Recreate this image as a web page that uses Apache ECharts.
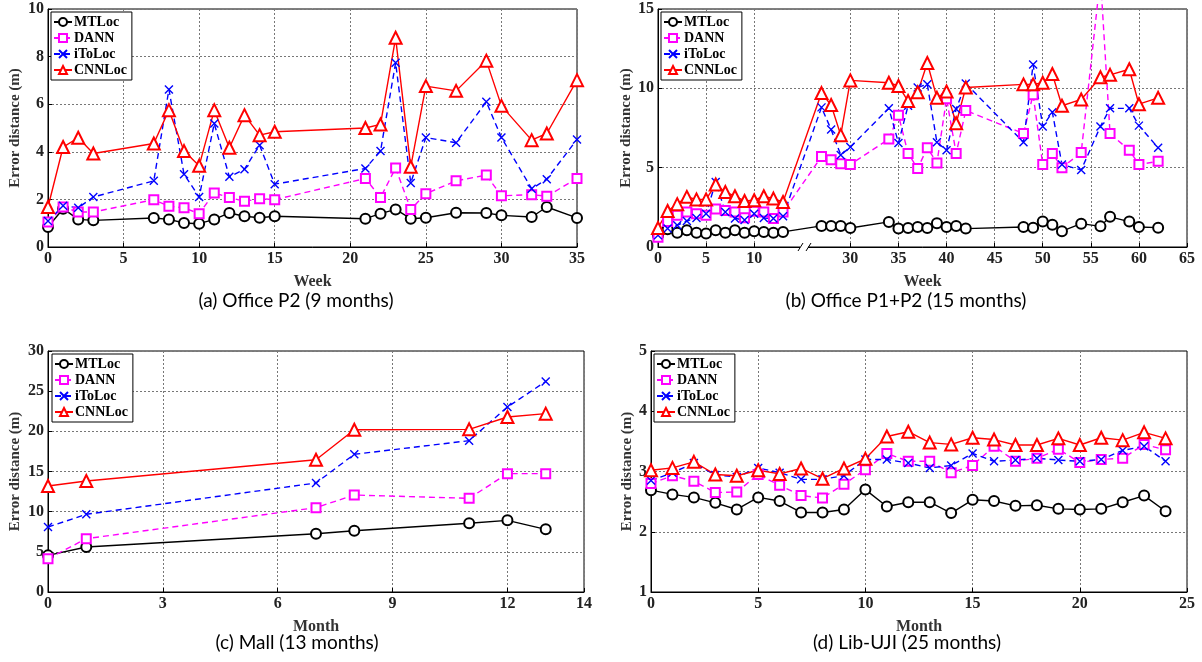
<!DOCTYPE html>
<html>
<head>
<meta charset="utf-8">
<script src="https://cdn.jsdelivr.net/npm/echarts@6/dist/echarts.min.js"></script>
<style>
  html, body { margin: 0; padding: 0; background: #fff; }
  #chart { width: 1202px; height: 662px; }
</style>
</head>
<body>
<div id="chart"></div>
<script>
// (a) Office P2, weeks
const weeksA = [0, 1, 2, 3, 7, 8, 9, 10, 11, 12, 13, 14, 15, 21, 22, 23, 24, 25, 27, 29, 30, 32, 33, 35];
const mtlocA = [0.84, 1.61, 1.16, 1.12, 1.22, 1.16, 1.01, 0.98, 1.16, 1.43, 1.29, 1.23, 1.29, 1.19, 1.40, 1.58, 1.19, 1.23, 1.44, 1.43, 1.33, 1.26, 1.68, 1.22];
const dannA = [1.05, 1.68, 1.47, 1.47, 1.99, 1.71, 1.65, 1.40, 2.27, 2.08, 1.92, 2.03, 1.99, 2.88, 2.08, 3.32, 1.58, 2.24, 2.78, 3.02, 2.15, 2.20, 2.13, 2.88];
const itolocA = [1.09, 1.73, 1.65, 2.10, 2.78, 6.62, 3.06, 2.10, 5.19, 2.95, 3.27, 4.28, 2.64, 3.30, 4.03, 7.74, 2.69, 4.60, 4.38, 6.10, 4.60, 2.45, 2.85, 4.52];
const cnnlocA = [1.68, 4.20, 4.59, 3.93, 4.35, 5.75, 4.03, 3.41, 5.75, 4.17, 5.54, 4.70, 4.84, 5.00, 5.15, 8.79, 3.37, 6.76, 6.56, 7.83, 5.93, 4.49, 4.77, 7.01];

// (b) Office P1+P2, weeks (axis is broken between 13 and 27)
const weeksB = [0, 1, 2, 3, 4, 5, 6, 7, 8, 9, 10, 11, 12, 13, 27, 28, 29, 30, 34, 35, 36, 37, 38, 39, 40, 41, 42, 48, 49, 50, 51, 52, 54, 56, 57, 59, 60, 62];
const mtlocB = [0.74, 1.12, 0.9, 1.05, 0.9, 0.85, 1.05, 0.9, 1.05, 0.9, 1.0, 0.95, 0.9, 0.95, 1.33, 1.33, 1.33, 1.2, 1.58, 1.16, 1.2, 1.26, 1.2, 1.5, 1.26, 1.33, 1.16, 1.26, 1.22, 1.6, 1.4, 1.0, 1.47, 1.3, 1.9, 1.6, 1.26, 1.22];
const dannB = [0.62, 1.6, 2.0, 2.2, 2.1, 2.0, 2.4, 2.3, 2.2, 1.85, 2.25, 2.2, 1.8, 2.2, 5.7, 5.5, 5.25, 5.2, 6.8, 8.3, 5.9, 4.95, 6.25, 5.3, 9.35, 5.9, 8.6, 7.15, 9.6, 5.2, 5.9, 5.0, 5.95, 17, 7.15, 6.1, 5.2, 5.4];
const itolocB = [0.74, 1.16, 1.37, 1.64, 1.83, 2.1, 4.1, 2.2, 1.8, 1.7, 2.1, 1.83, 1.8, 1.94, 8.8, 7.4, 5.8, 6.3, 8.74, 6.56, 8.9, 10.06, 10.25, 6.6, 6.1, 8.7, 10.3, 6.6, 11.5, 7.6, 8.5, 5.2, 4.85, 7.6, 8.74, 8.74, 7.65, 6.25];
const cnnlocB = [1.2, 2.27, 2.7, 3.16, 3.0, 3.0, 3.94, 3.47, 3.2, 2.9, 2.95, 3.2, 3.05, 2.84, 9.7, 8.95, 7.05, 10.5, 10.35, 10.15, 9.2, 9.75, 11.6, 9.4, 9.8, 7.8, 10.05, 10.25, 10.25, 10.35, 10.9, 8.9, 9.3, 10.7, 10.85, 11.2, 9.0, 9.4];
const weekTicksB = [0, 5, 10, 30, 35, 40, 45, 50, 55, 60, 65];

// (c) Mall, months
const monthsC = [0, 1, 7, 8, 11, 12, 13];
const mtlocC = [4.56, 5.6, 7.26, 7.63, 8.55, 8.92, 7.8];
const dannC = [4.15, 6.64, 10.5, 12.07, 11.66, 14.73, 14.73];
const itolocC = [8.09, 9.67, 13.57, 17.14, 18.84, 23.03, 26.2];
const cnnlocC = [13.2, 13.82, 16.47, 20.2, 20.25, 21.78, 22.2];

// (d) Lib-UJI, months
const monthsD = [0, 1, 2, 3, 4, 5, 6, 7, 8, 9, 10, 11, 12, 13, 14, 15, 16, 17, 18, 19, 20, 21, 22, 23, 24];
const mtlocD = [2.69, 2.62, 2.57, 2.48, 2.37, 2.57, 2.51, 2.32, 2.32, 2.37, 2.7, 2.42, 2.49, 2.49, 2.31, 2.53, 2.51, 2.43, 2.44, 2.38, 2.37, 2.38, 2.49, 2.6, 2.34];
const dannD = [2.8, 2.93, 2.84, 2.65, 2.66, 2.95, 2.77, 2.6, 2.56, 2.79, 3.03, 3.3, 3.17, 3.17, 2.98, 3.1, 3.42, 3.17, 3.22, 3.37, 3.15, 3.2, 3.22, 3.45, 3.36];
const itolocD = [2.85, 2.98, 3.14, 2.94, 2.91, 3.06, 2.98, 2.87, 2.87, 2.93, 3.2, 3.2, 3.14, 3.06, 3.1, 3.3, 3.17, 3.19, 3.22, 3.19, 3.17, 3.2, 3.35, 3.42, 3.17];
const cnnlocD = [3.02, 3.06, 3.16, 2.95, 2.93, 3.02, 2.96, 3.05, 2.88, 3.05, 3.21, 3.58, 3.66, 3.48, 3.45, 3.56, 3.53, 3.44, 3.44, 3.55, 3.44, 3.56, 3.52, 3.65, 3.55];

const methods = ['MTLoc', 'DANN', 'iToLoc', 'CNNLoc'];
const captions = ['(a) Office P2 (9 months)', '(b) Office P1+P2 (15 months)', '(c) Mall (13 months)', '(d) Lib-UJI (25 months)'];

const chart = echarts.init(document.getElementById('chart'));

const SERIF = 'Liberation Serif';

// broken axis in (b): weeks after the gap are shifted left by 10
const toAxisB = w => (w <= 13 ? w : w - 10);
const fromAxisB = v => (v <= 10 ? v : v + 10);

const styles = {
  MTLoc: { color: '#000', type: 'solid', symbol: 'emptyCircle', size: 10 },
  DANN: { color: '#ff00ff', type: [6, 4], symbol: 'emptyRect', size: 9 },
  iToLoc: { color: '#0000ff', type: [6, 4], symbol: 'path://M0,0L10,10M10,0L0,10', size: 8 },
  CNNLoc: { color: '#ff0000', type: 'solid', symbol: 'emptyTriangle', size: 12 }
};

function makeSeries(name, xs, ys, idx, xmap) {
  const s = styles[name];
  return {
    name: name,
    type: 'line',
    xAxisIndex: idx,
    yAxisIndex: idx,
    data: xs.map((x, i) => [xmap ? xmap(x) : x, ys[i]]),
    symbol: s.symbol,
    symbolSize: s.size,
    showAllSymbol: true,
    clip: idx !== 1,
    lineStyle: { color: s.color, width: 1.4, type: s.type },
    itemStyle: { color: s.color, borderColor: s.color, borderWidth: 1.4 },
    emphasis: { disabled: true },
    z: 3
  };
}

const grids = [
  { left: 48, top: 9, width: 529, height: 238 },
  { left: 658, top: 9, width: 529, height: 238 },
  { left: 48, top: 351, width: 536, height: 241 },
  { left: 651, top: 351, width: 536, height: 241 }
];

const splitLine = { show: true, lineStyle: { color: '#777', type: [2, 2], width: 1 } };
const axisLine = { show: true, onZero: false, lineStyle: { color: '#000', width: 1 } };
const axisTick = { show: true, inside: true, length: 4, lineStyle: { color: '#000' } };
const tickLabel = { fontFamily: SERIF, fontWeight: 'bold', fontSize: 16, color: '#222' };
const nameStyle = { fontFamily: SERIF, fontWeight: 'bold', fontSize: 16, color: '#333' };

function xAxis(idx, min, max, interval, name, extra) {
  return Object.assign({
    type: 'value', gridIndex: idx, min: min, max: max, interval: interval,
    name: name, nameLocation: 'middle', nameGap: 27, nameTextStyle: nameStyle,
    axisLine: axisLine, axisTick: axisTick, splitLine: splitLine,
    axisLabel: Object.assign({ margin: 4 }, tickLabel)
  }, extra || {});
}

function yAxis(idx, min, max, interval, gap) {
  return {
    type: 'value', gridIndex: idx, min: min, max: max, interval: interval,
    name: 'Error distance (m)', nameLocation: 'middle', nameGap: gap,
    nameTextStyle: Object.assign({}, nameStyle, { fontSize: 15 }),
    axisLine: axisLine, axisTick: axisTick, splitLine: splitLine,
    axisLabel: Object.assign({ margin: 4 }, tickLabel)
  };
}

const bTicks = weekTicksB.map(toAxisB);

const xAxes = [
  xAxis(0, 0, 35, 5, 'Week'),
  xAxis(1, 0, 55, 5, 'Week', {
    axisTick: Object.assign({}, axisTick, { customValues: bTicks }),
    axisLabel: Object.assign({ margin: 4, customValues: bTicks, formatter: v => String(fromAxisB(v)) }, tickLabel)
  }),
  xAxis(2, 0, 14, 3, 'Month'),
  xAxis(3, 0, 25, 5, 'Month')
];

const yAxes = [
  yAxis(0, 0, 10, 2, 25),
  yAxis(1, 0, 15, 5, 22),
  yAxis(2, 0, 30, 5, 25),
  yAxis(3, 1, 5, 1, 16)
];

const legendPos = [[51, 12], [661, 12], [52, 354], [654, 354]];
const legends = legendPos.map(p => ({
  data: methods,
  left: p[0], top: p[1],
  orient: 'vertical',
  itemWidth: 18, itemHeight: 10, itemGap: 2,
  padding: [3, 5, 3, 2],
  backgroundColor: '#fff',
  borderColor: '#000', borderWidth: 1, borderRadius: 0,
  selectedMode: false,
  textStyle: { fontFamily: SERIF, fontWeight: 'bold', fontSize: 14, color: '#000', padding: [0, 0, 0, -3] }
}));

const series = [];
const sets = [
  [weeksA, [mtlocA, dannA, itolocA, cnnlocA], null],
  [weeksB, [mtlocB, dannB, itolocB, cnnlocB], toAxisB],
  [monthsC, [mtlocC, dannC, itolocC, cnnlocC], null],
  [monthsD, [mtlocD, dannD, itolocD, cnnlocD], null]
];
sets.forEach((set, idx) => {
  methods.forEach((m, k) => series.push(makeSeries(m, set[0], set[1][k], idx, set[2])));
});

const captionPos = [[296, 301], [906, 301], [297, 643], [907, 643]];
const graphic = captions.map((c, i) => ({
  type: 'text',
  x: captionPos[i][0], y: captionPos[i][1],
  style: { text: c, font: '19px Lato', fill: '#000', textAlign: 'center', textVerticalAlign: 'middle' }
}));
// break mark on the (b) week axis
graphic.push(
  { type: 'rect', shape: { x: 800, y: 244, width: 8, height: 5 }, style: { fill: '#fff' }, z: 10 },
  { type: 'line', shape: { x1: 798, y1: 251, x2: 803, y2: 243 }, style: { stroke: '#000', lineWidth: 1 }, z: 11 },
  { type: 'line', shape: { x1: 806, y1: 251, x2: 811, y2: 243 }, style: { stroke: '#000', lineWidth: 1 }, z: 11 }
);

chart.setOption({
  animation: false,
  backgroundColor: '#fff',
  grid: grids.map(g => Object.assign({ show: true, borderColor: '#000', borderWidth: 1, backgroundColor: 'transparent' }, g)),
  xAxis: xAxes,
  yAxis: yAxes,
  legend: legends,
  series: series,
  graphic: graphic
});
</script>
</body>
</html>
